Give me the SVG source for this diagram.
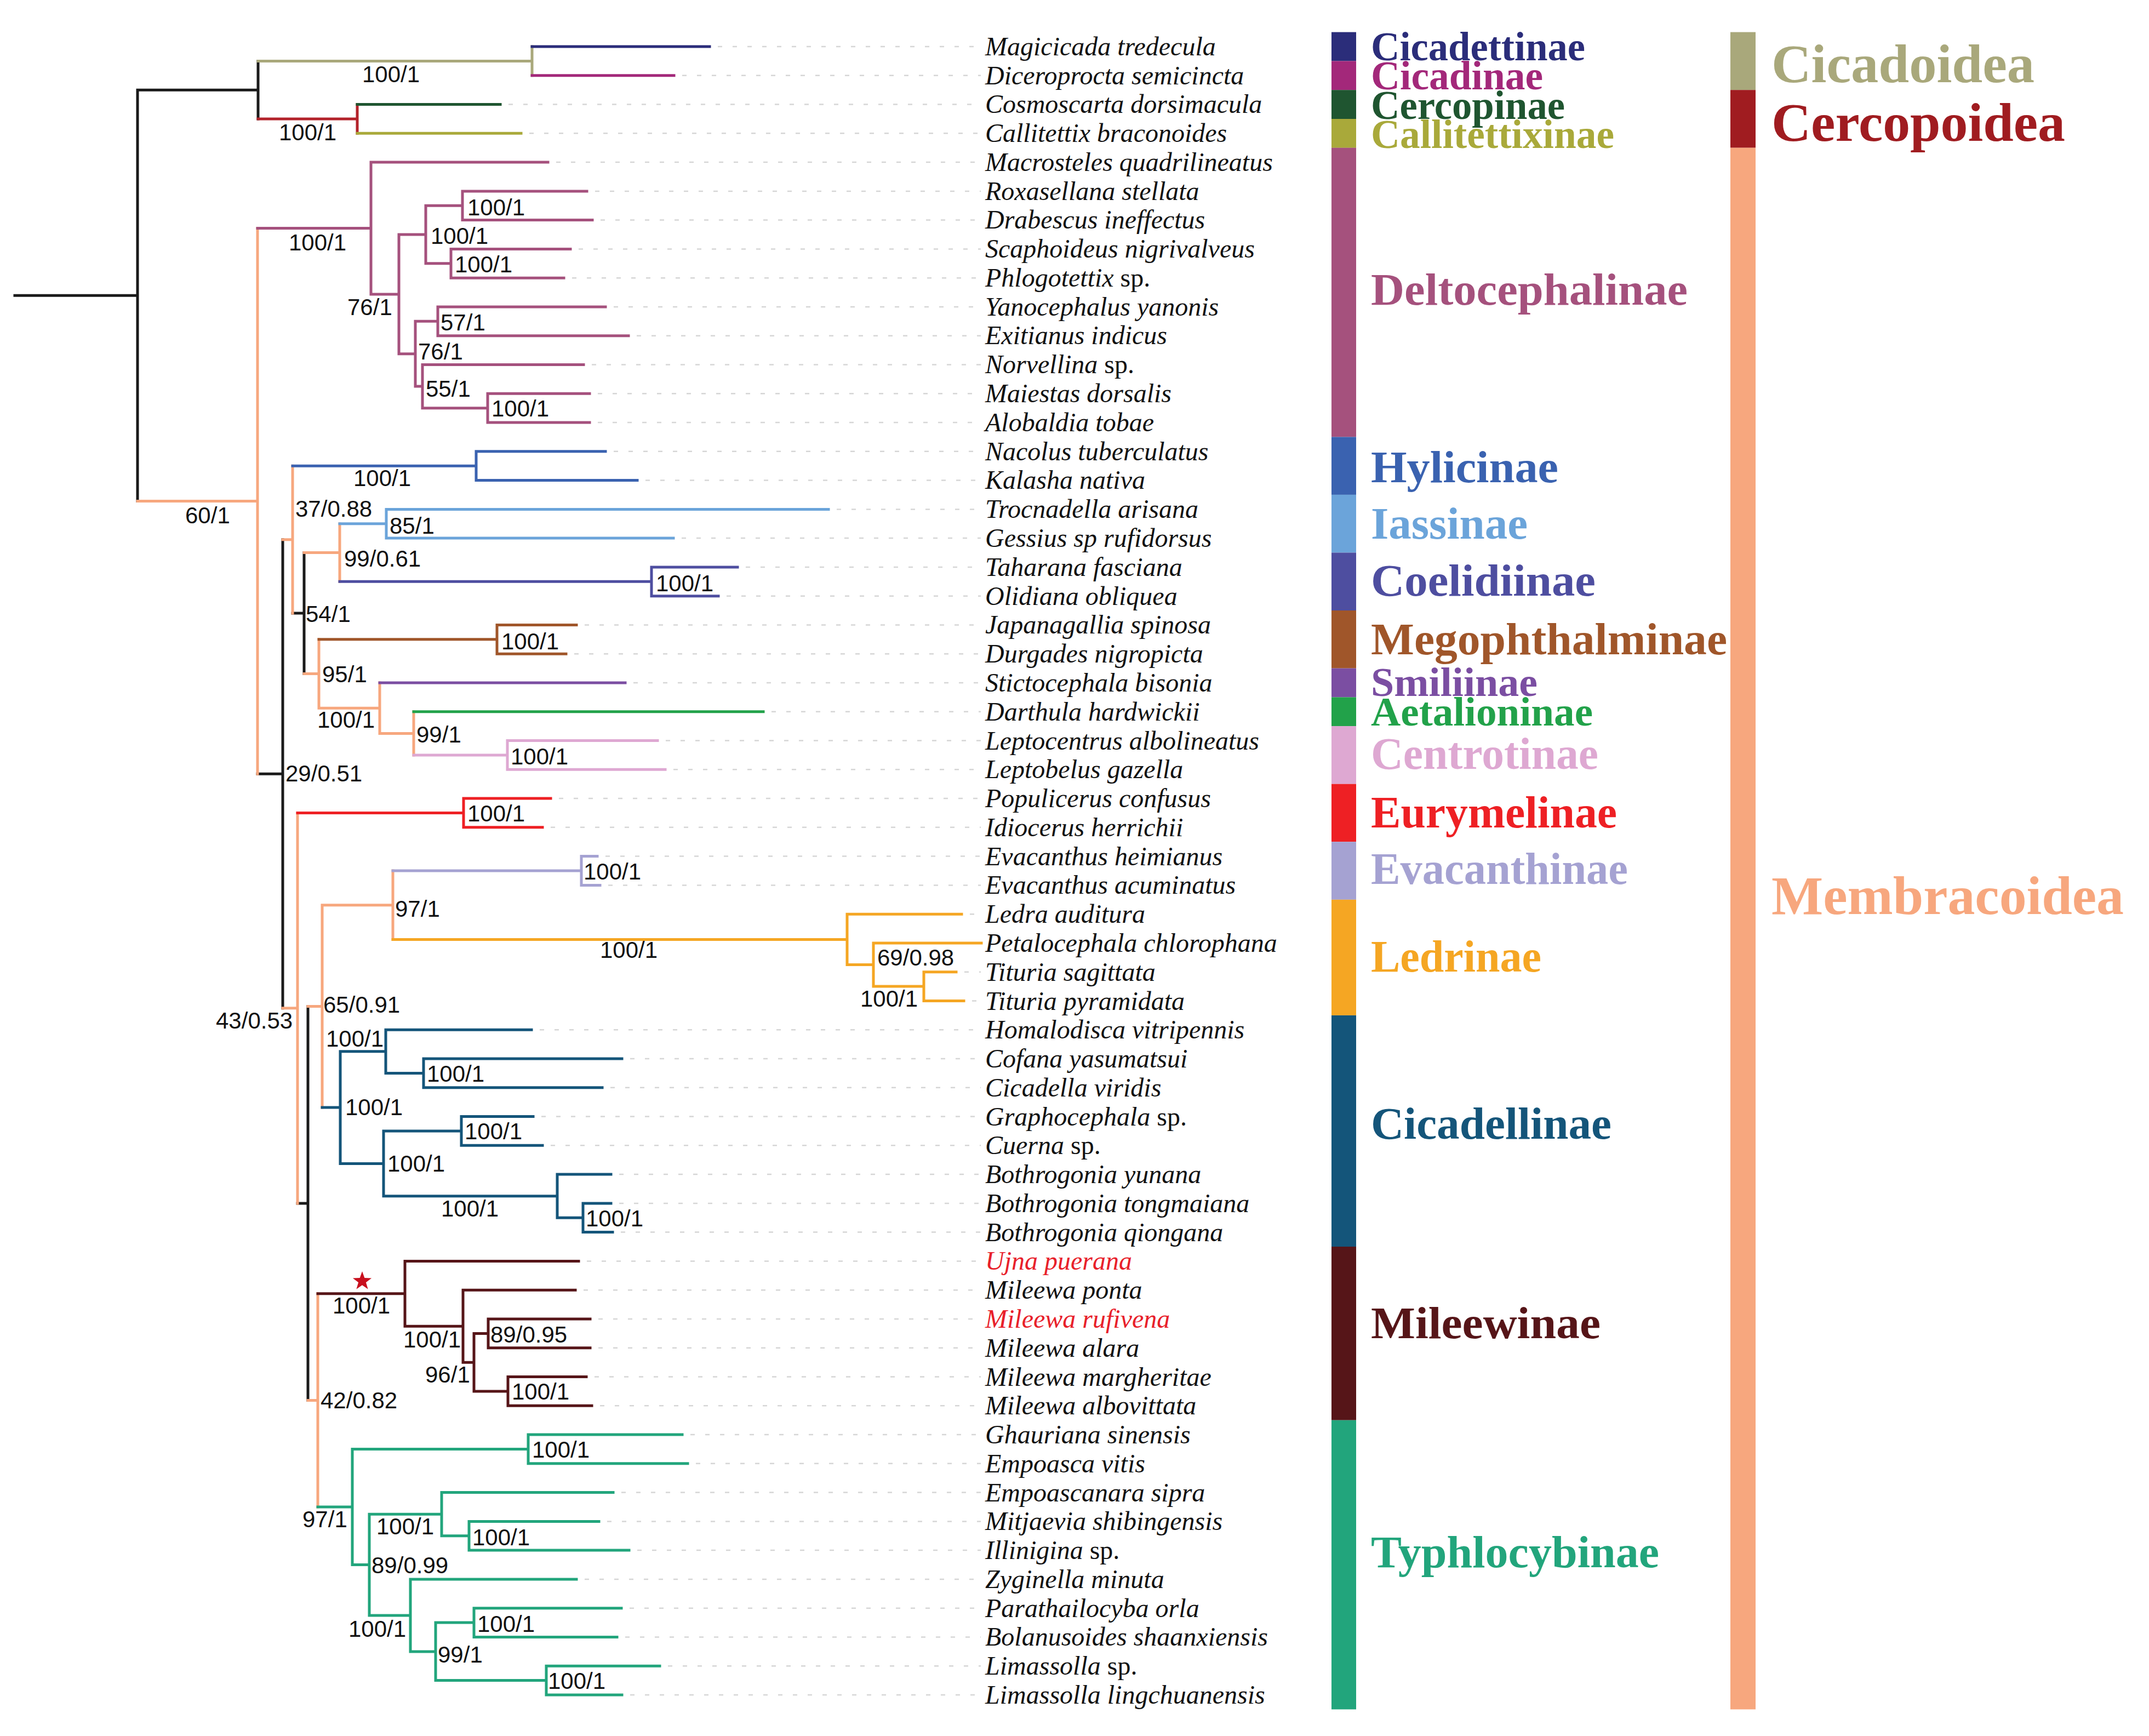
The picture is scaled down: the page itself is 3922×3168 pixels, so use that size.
<svg xmlns="http://www.w3.org/2000/svg" width="3922" height="3168" viewBox="0 0 3922 3168">
<style>
.t{fill:none;stroke-width:5;stroke-linecap:square}
.k{stroke:#1a1a1a}.m{stroke:#f7a77e}.cz{stroke:#a9a87b}.cer{stroke:#b3222a}
.nv{stroke:#2b2d7a}.mgt{stroke:#a3287a}.dg{stroke:#1f5530}.ol{stroke:#a9a93a}
.de{stroke:#a5517d}.hy{stroke:#3a62b0}.ia{stroke:#6ba4da}.co{stroke:#4e4ea0}
.mg{stroke:#a0562a}.sm{stroke:#7b4ea2}.ae{stroke:#22a24a}.ce{stroke:#dea8d2}
.eu{stroke:#ee2024}.ev{stroke:#a5a2d2}.le{stroke:#f5a623}.cd{stroke:#14557a}
.mi{stroke:#561518}.ty{stroke:#22a57c}
.lead{fill:none;stroke:#d6d6d6;stroke-width:2.5;stroke-dasharray:8 19}
.sup{font-family:"Liberation Sans",Arial,sans-serif;font-size:42px;fill:#111}
.sp{font-family:"Liberation Serif","Times New Roman",serif;font-style:italic;font-size:48px;fill:#111}
.sp .u{font-style:normal}
.red{fill:#e8202a}
.sf{font-family:"Liberation Serif","Times New Roman",serif;font-weight:bold;font-size:82px}
.sf2{font-family:"Liberation Serif","Times New Roman",serif;font-weight:bold;font-size:73px}
.su{font-family:"Liberation Serif","Times New Roman",serif;font-weight:bold;font-size:100px}
</style>
<rect width="3922" height="3168" fill="#fff"/>
<g id="connectors">
<path class="t k" d="M27 539.3H251M251 164.2V914.4M251 164.2H471M471 111.4V216.9M470 1412.2H516M516 984.7V1839.7M534 1119.1H555M555 1008.6V1229.5M543 2195.9H562M562 1836.4V2555.4"/>
<path class="t cz" d="M471 111.4H971M971 85V137.8"/>
<path class="t nv" d="M971 85H1295"/>
<path class="t mgt" d="M971 137.8H1230"/>
<path class="t cer" d="M471 216.9H652M652 190.5V243.3"/>
<path class="t dg" d="M652 190.5H913"/>
<path class="t ol" d="M652 243.3H951"/>
<path class="t m" d="M251 914.4H470M470 416.5V1412.2M516 984.7H534M534 850.2V1119.1M555 1008.6H620M620 955.8V1061.3M555 1229.5H582M582 1166.8V1292.2M582 1292.2H693M693 1246V1338.4M693 1338.4H755M755 1298.8V1377.9M516 1839.7H543M543 1483.5V2195.9M562 1836.4H588M588 1651.7V2021.1M588 1651.7H717M717 1589V1714.4M562 2555.4H580M580 2360.8V2750"/>
<path class="t de" d="M470 416.5H677M677 296.1V536.9M677 296.1H1000M677 536.9H728M728 428V645.7M728 428H777M777 375.3V480.8M777 375.3H844M844 348.9V401.6M844 348.9H1071M844 401.6H1081M777 480.8H823M823 454.4V507.2M823 454.4H1041M823 507.2H1029M728 645.7H758M758 586.3V705.1M758 586.3H799M799 559.9V612.7M799 559.9H1105M799 612.7H1147M758 705.1H771M771 665.5V744.7M771 665.5H1065M771 744.7H890M890 718.3V771M890 718.3H1076M890 771H1076"/>
<path class="t hy" d="M534 850.2H869M869 823.8V876.6M869 823.8H1105M869 876.6H1163"/>
<path class="t ia" d="M620 955.8H705M705 929.4V982.1M705 929.4H1512M705 982.1H1229"/>
<path class="t co" d="M620 1061.3H1189M1189 1034.9V1087.7M1189 1034.9H1346M1189 1087.7H1311"/>
<path class="t mg" d="M582 1166.8H907M907 1140.4V1193.2M907 1140.4H1052M907 1193.2H1033"/>
<path class="t sm" d="M693 1246H1141"/>
<path class="t ae" d="M755 1298.8H1393"/>
<path class="t ce" d="M755 1377.9H926M926 1351.5V1404.3M926 1351.5H1200M926 1404.3H1214"/>
<path class="t eu" d="M543 1483.5H846M846 1457.1V1509.8M846 1457.1H1005M846 1509.8H990"/>
<path class="t ev" d="M717 1589H1061M1061 1562.6V1615.4M1061 1562.6H1090M1061 1615.4H1095"/>
<path class="t le" d="M717 1714.4H1546M1546 1668.2V1760.5M1546 1668.2H1755M1546 1760.5H1594M1594 1720.9V1800.1M1594 1720.9H1791M1594 1800.1H1686M1686 1773.7V1826.5M1686 1773.7H1745M1686 1826.5H1759"/>
<path class="t cd" d="M588 2021.1H621M621 1918.8V2123.4M621 1918.8H704M704 1879.2V1958.4M704 1879.2H970M704 1958.4H773M773 1932V1984.8M773 1932H1135M773 1984.8H1099M621 2123.4H700M700 2064V2182.7M700 2064H842M842 2037.6V2090.3M842 2037.6H973M842 2090.3H990M700 2182.7H1017M1017 2143.1V2222.3M1017 2143.1H1115M1017 2222.3H1064M1064 2195.9V2248.6M1064 2195.9H1115M1064 2248.6H1118"/>
<path class="t mi" d="M580 2360.8H739M739 2301.4V2420.2M739 2301.4H1056M739 2420.2H845M845 2354.2V2486.2M845 2354.2H1050M845 2486.2H865M865 2433.4V2538.9M865 2433.4H891M891 2407V2459.7M891 2407H1077M891 2459.7H1077M865 2538.9H927M927 2512.5V2565.3M927 2512.5H1070M927 2565.3H1080"/>
<path class="t ty" d="M580 2750H643M643 2644.4V2855.6M643 2644.4H964M964 2618V2670.8M964 2618H1245M964 2670.8H1255M643 2855.6H674M674 2763.2V2947.9M674 2763.2H806M806 2723.6V2802.8M806 2723.6H1119M806 2802.8H856M856 2776.4V2829.1M856 2776.4H1093M856 2829.1H1148M674 2947.9H749M749 2881.9V3013.9M749 2881.9H1052M749 3013.9H795M795 2961.1V3066.6M795 2961.1H865M865 2934.7V2987.4M865 2934.7H1134M865 2987.4H1126M795 3066.6H997M997 3040.2V3093M997 3040.2H1204M997 3093H1135"/>
<path class="lead" d="M1310 85H1790M1245 137.8H1790M928 190.5H1790M966 243.3H1790M1015 296.1H1790M1086 348.9H1790M1096 401.6H1790M1056 454.4H1790M1044 507.2H1790M1120 559.9H1790M1162 612.7H1790M1080 665.5H1790M1091 718.3H1790M1091 771H1790M1120 823.8H1790M1178 876.6H1790M1527 929.4H1790M1244 982.1H1790M1361 1034.9H1790M1326 1087.7H1790M1067 1140.4H1790M1048 1193.2H1790M1156 1246H1790M1408 1298.8H1790M1215 1351.5H1790M1229 1404.3H1790M1020 1457.1H1790M1005 1509.8H1790M1105 1562.6H1790M1110 1615.4H1790M1770 1668.2H1790M1760 1773.7H1790M1774 1826.5H1790M985 1879.2H1790M1150 1932H1790M1114 1984.8H1790M988 2037.6H1790M1005 2090.3H1790M1130 2143.1H1790M1130 2195.9H1790M1133 2248.6H1790M1071 2301.4H1790M1065 2354.2H1790M1092 2407H1790M1092 2459.7H1790M1085 2512.5H1790M1095 2565.3H1790M1260 2618H1790M1270 2670.8H1790M1134 2723.6H1790M1108 2776.4H1790M1163 2829.1H1790M1067 2881.9H1790M1149 2934.7H1790M1141 2987.4H1790M1219 3040.2H1790M1150 3093H1790"/>
</g>
<g id="support-values" class="sup">
<text x="661" y="150">100/1</text>
<text x="509" y="256">100/1</text>
<text x="527" y="457">100/1</text>
<text x="634" y="575">76/1</text>
<text x="786" y="445">100/1</text>
<text x="853" y="393">100/1</text>
<text x="830" y="497">100/1</text>
<text x="763" y="656">76/1</text>
<text x="804" y="603">57/1</text>
<text x="777" y="724">55/1</text>
<text x="897" y="760">100/1</text>
<text x="338" y="955">60/1</text>
<text x="645" y="887">100/1</text>
<text x="539" y="943">37/0.88</text>
<text x="711" y="974">85/1</text>
<text x="628" y="1034">99/0.61</text>
<text x="1197" y="1079">100/1</text>
<text x="558" y="1135">54/1</text>
<text x="915" y="1185">100/1</text>
<text x="588" y="1245">95/1</text>
<text x="579" y="1328">100/1</text>
<text x="760" y="1355">99/1</text>
<text x="932" y="1395">100/1</text>
<text x="521" y="1426">29/0.51</text>
<text x="853" y="1499">100/1</text>
<text x="1065" y="1605">100/1</text>
<text x="721" y="1673">97/1</text>
<text x="1095" y="1748">100/1</text>
<text x="1601" y="1762">69/0.98</text>
<text x="1570" y="1837">100/1</text>
<text x="590" y="1848">65/0.91</text>
<text x="394" y="1877">43/0.53</text>
<text x="595" y="1910">100/1</text>
<text x="779" y="1974">100/1</text>
<text x="630" y="2035">100/1</text>
<text x="848" y="2079">100/1</text>
<text x="707" y="2138">100/1</text>
<text x="805" y="2220">100/1</text>
<text x="1069" y="2238">100/1</text>
<text x="607" y="2397">100/1</text>
<text x="895" y="2450">89/0.95</text>
<text x="736" y="2459">100/1</text>
<text x="776" y="2523">96/1</text>
<text x="934" y="2554">100/1</text>
<text x="585" y="2570">42/0.82</text>
<text x="971" y="2660">100/1</text>
<text x="552" y="2787">97/1</text>
<text x="687" y="2800">100/1</text>
<text x="862" y="2820">100/1</text>
<text x="678" y="2871">89/0.99</text>
<text x="871" y="2978">100/1</text>
<text x="636" y="2987">100/1</text>
<text x="799" y="3034">99/1</text>
<text x="1000" y="3082">100/1</text>
</g>
<polygon id="star" fill="#c8101e" points="661,2320 665.3,2332.1 678.1,2332.4 667.9,2340.3 671.6,2352.6 661,2345.3 650.4,2352.6 654.1,2340.3 643.9,2332.4 656.7,2332.1"/>
<g id="taxa" class="sp">
<g id="leaf01"><text x="1798" y="101">Magicicada tredecula</text></g>
<g id="leaf02"><text x="1798" y="154">Diceroprocta semicincta</text></g>
<g id="leaf03"><text x="1798" y="206">Cosmoscarta dorsimacula</text></g>
<g id="leaf04"><text x="1798" y="259">Callitettix braconoides</text></g>
<g id="leaf05"><text x="1798" y="312">Macrosteles quadrilineatus</text></g>
<g id="leaf06"><text x="1798" y="365">Roxasellana stellata</text></g>
<g id="leaf07"><text x="1798" y="417">Drabescus ineffectus</text></g>
<g id="leaf08"><text x="1798" y="470">Scaphoideus nigrivalveus</text></g>
<g id="leaf09"><text x="1798" y="523">Phlogotettix<tspan class="u"> sp.</tspan></text></g>
<g id="leaf10"><text x="1798" y="576">Yanocephalus yanonis</text></g>
<g id="leaf11"><text x="1798" y="628">Exitianus indicus</text></g>
<g id="leaf12"><text x="1798" y="681">Norvellina<tspan class="u"> sp.</tspan></text></g>
<g id="leaf13"><text x="1798" y="734">Maiestas dorsalis</text></g>
<g id="leaf14"><text x="1798" y="787">Alobaldia tobae</text></g>
<g id="leaf15"><text x="1798" y="840">Nacolus tuberculatus</text></g>
<g id="leaf16"><text x="1798" y="892">Kalasha nativa</text></g>
<g id="leaf17"><text x="1798" y="945">Trocnadella arisana</text></g>
<g id="leaf18"><text x="1798" y="998">Gessius sp rufidorsus</text></g>
<g id="leaf19"><text x="1798" y="1051">Taharana fasciana</text></g>
<g id="leaf20"><text x="1798" y="1104">Olidiana obliquea</text></g>
<g id="leaf21"><text x="1798" y="1156">Japanagallia spinosa</text></g>
<g id="leaf22"><text x="1798" y="1209">Durgades nigropicta</text></g>
<g id="leaf23"><text x="1798" y="1262">Stictocephala bisonia</text></g>
<g id="leaf24"><text x="1798" y="1315">Darthula hardwickii</text></g>
<g id="leaf25"><text x="1798" y="1368">Leptocentrus albolineatus</text></g>
<g id="leaf26"><text x="1798" y="1420">Leptobelus gazella</text></g>
<g id="leaf27"><text x="1798" y="1473">Populicerus confusus</text></g>
<g id="leaf28"><text x="1798" y="1526">Idiocerus herrichii</text></g>
<g id="leaf29"><text x="1798" y="1579">Evacanthus heimianus</text></g>
<g id="leaf30"><text x="1798" y="1631">Evacanthus acuminatus</text></g>
<g id="leaf31"><text x="1798" y="1684">Ledra auditura</text></g>
<g id="leaf32"><text x="1798" y="1737">Petalocephala chlorophana</text></g>
<g id="leaf33"><text x="1798" y="1790">Tituria sagittata</text></g>
<g id="leaf34"><text x="1798" y="1843">Tituria pyramidata</text></g>
<g id="leaf35"><text x="1798" y="1895">Homalodisca vitripennis</text></g>
<g id="leaf36"><text x="1798" y="1948">Cofana yasumatsui</text></g>
<g id="leaf37"><text x="1798" y="2001">Cicadella viridis</text></g>
<g id="leaf38"><text x="1798" y="2054">Graphocephala<tspan class="u"> sp.</tspan></text></g>
<g id="leaf39"><text x="1798" y="2106">Cuerna<tspan class="u"> sp.</tspan></text></g>
<g id="leaf40"><text x="1798" y="2159">Bothrogonia yunana</text></g>
<g id="leaf41"><text x="1798" y="2212">Bothrogonia tongmaiana</text></g>
<g id="leaf42"><text x="1798" y="2265">Bothrogonia qiongana</text></g>
<g id="leaf43"><text x="1798" y="2317" class="red">Ujna puerana</text></g>
<g id="leaf44"><text x="1798" y="2370">Mileewa ponta</text></g>
<g id="leaf45"><text x="1798" y="2423" class="red">Mileewa rufivena</text></g>
<g id="leaf46"><text x="1798" y="2476">Mileewa alara</text></g>
<g id="leaf47"><text x="1798" y="2529">Mileewa margheritae</text></g>
<g id="leaf48"><text x="1798" y="2581">Mileewa albovittata</text></g>
<g id="leaf49"><text x="1798" y="2634">Ghauriana sinensis</text></g>
<g id="leaf50"><text x="1798" y="2687">Empoasca vitis</text></g>
<g id="leaf51"><text x="1798" y="2740">Empoascanara sipra</text></g>
<g id="leaf52"><text x="1798" y="2792">Mitjaevia shibingensis</text></g>
<g id="leaf53"><text x="1798" y="2845">Illinigina<tspan class="u"> sp.</tspan></text></g>
<g id="leaf54"><text x="1798" y="2898">Zyginella minuta</text></g>
<g id="leaf55"><text x="1798" y="2951">Parathailocyba orla</text></g>
<g id="leaf56"><text x="1798" y="3003">Bolanusoides shaanxiensis</text></g>
<g id="leaf57"><text x="1798" y="3056">Limassolla<tspan class="u"> sp.</tspan></text></g>
<g id="leaf58"><text x="1798" y="3109">Limassolla lingchuanensis</text></g>
</g>
<g id="subfamilies">
<g id="Cicadettinae"><rect x="2430" y="58.6" width="45" height="52.8" fill="#2b2d7a"/><text class="sf2" x="2502" y="110" fill="#2b2d7a" textLength="391" lengthAdjust="spacingAndGlyphs">Cicadettinae</text></g>
<g id="Cicadinae"><rect x="2430" y="111.4" width="45" height="52.8" fill="#a3287a"/><text class="sf2" x="2502" y="163" fill="#a3287a" textLength="314" lengthAdjust="spacingAndGlyphs">Cicadinae</text></g>
<g id="Cercopinae"><rect x="2430" y="164.2" width="45" height="52.8" fill="#1f5530"/><text class="sf2" x="2502" y="217" fill="#1f5530" textLength="354" lengthAdjust="spacingAndGlyphs">Cercopinae</text></g>
<g id="Callitettixinae"><rect x="2430" y="217" width="45" height="52.8" fill="#a9a93a"/><text class="sf2" x="2502" y="270" fill="#a9a93a" textLength="444" lengthAdjust="spacingAndGlyphs">Callitettixinae</text></g>
<g id="Deltocephalinae"><rect x="2430" y="269.7" width="45" height="527.7" fill="#a5517d"/><text class="sf" x="2502" y="556" fill="#a5517d" textLength="578" lengthAdjust="spacingAndGlyphs">Deltocephalinae</text></g>
<g id="Hylicinae"><rect x="2430" y="797.4" width="45" height="105.5" fill="#3a62b0"/><text class="sf" x="2502" y="880" fill="#3a62b0" textLength="342" lengthAdjust="spacingAndGlyphs">Hylicinae</text></g>
<g id="Iassinae"><rect x="2430" y="902.9" width="45" height="105.6" fill="#6ba4da"/><text class="sf" x="2502" y="983" fill="#6ba4da" textLength="286" lengthAdjust="spacingAndGlyphs">Iassinae</text></g>
<g id="Coelidiinae"><rect x="2430" y="1008.5" width="45" height="105.5" fill="#4e4ea0"/><text class="sf" x="2502" y="1087" fill="#4e4ea0" textLength="410" lengthAdjust="spacingAndGlyphs">Coelidiinae</text></g>
<g id="Megophthalminae"><rect x="2430" y="1114" width="45" height="105.6" fill="#a0562a"/><text class="sf" x="2502" y="1194" fill="#a0562a" textLength="650" lengthAdjust="spacingAndGlyphs">Megophthalminae</text></g>
<g id="Smiliinae"><rect x="2430" y="1219.6" width="45" height="52.8" fill="#7b4ea2"/><text class="sf2" x="2502" y="1270" fill="#7b4ea2" textLength="304" lengthAdjust="spacingAndGlyphs">Smiliinae</text></g>
<g id="Aetalioninae"><rect x="2430" y="1272.4" width="45" height="52.7" fill="#22a24a"/><text class="sf2" x="2502" y="1324" fill="#22a24a" textLength="405" lengthAdjust="spacingAndGlyphs">Aetalioninae</text></g>
<g id="Centrotinae"><rect x="2430" y="1325.1" width="45" height="105.6" fill="#dea8d2"/><text class="sf" x="2502" y="1403" fill="#dea8d2" textLength="415" lengthAdjust="spacingAndGlyphs">Centrotinae</text></g>
<g id="Eurymelinae"><rect x="2430" y="1430.7" width="45" height="105.5" fill="#ee2024"/><text class="sf" x="2502" y="1510" fill="#ee2024" textLength="449" lengthAdjust="spacingAndGlyphs">Eurymelinae</text></g>
<g id="Evacanthinae"><rect x="2430" y="1536.2" width="45" height="105.6" fill="#a5a2d2"/><text class="sf" x="2502" y="1613" fill="#a5a2d2" textLength="469" lengthAdjust="spacingAndGlyphs">Evacanthinae</text></g>
<g id="Ledrinae"><rect x="2430" y="1641.8" width="45" height="211.1" fill="#f5a623"/><text class="sf" x="2502" y="1773" fill="#f5a623" textLength="311" lengthAdjust="spacingAndGlyphs">Ledrinae</text></g>
<g id="Cicadellinae"><rect x="2430" y="1852.9" width="45" height="422.1" fill="#14557a"/><text class="sf" x="2502" y="2078" fill="#14557a" textLength="439" lengthAdjust="spacingAndGlyphs">Cicadellinae</text></g>
<g id="Mileewinae"><rect x="2430" y="2275" width="45" height="316.7" fill="#561518"/><text class="sf" x="2502" y="2442" fill="#561518" textLength="419" lengthAdjust="spacingAndGlyphs">Mileewinae</text></g>
<g id="Typhlocybinae"><rect x="2430" y="2591.7" width="45" height="527.7" fill="#22a57c"/><text class="sf" x="2502" y="2860" fill="#22a57c" textLength="526" lengthAdjust="spacingAndGlyphs">Typhlocybinae</text></g>
</g>
<g id="superfamilies">
<g id="Cicadoidea"><rect x="3158" y="58.6" width="46" height="105.6" fill="#a9a87b"/><text class="su" x="3233" y="150" fill="#a9a87b" textLength="480" lengthAdjust="spacingAndGlyphs">Cicadoidea</text></g>
<g id="Cercopoidea"><rect x="3158" y="164.2" width="46" height="105.5" fill="#a01c20"/><text class="su" x="3233" y="257" fill="#a01c20" textLength="536" lengthAdjust="spacingAndGlyphs">Cercopoidea</text></g>
<g id="Membracoidea"><rect x="3158" y="269.7" width="46" height="2849.7" fill="#f7a77e"/><text class="su" x="3233" y="1668" fill="#f7a77e" textLength="643" lengthAdjust="spacingAndGlyphs">Membracoidea</text></g>
</g>
</svg>
